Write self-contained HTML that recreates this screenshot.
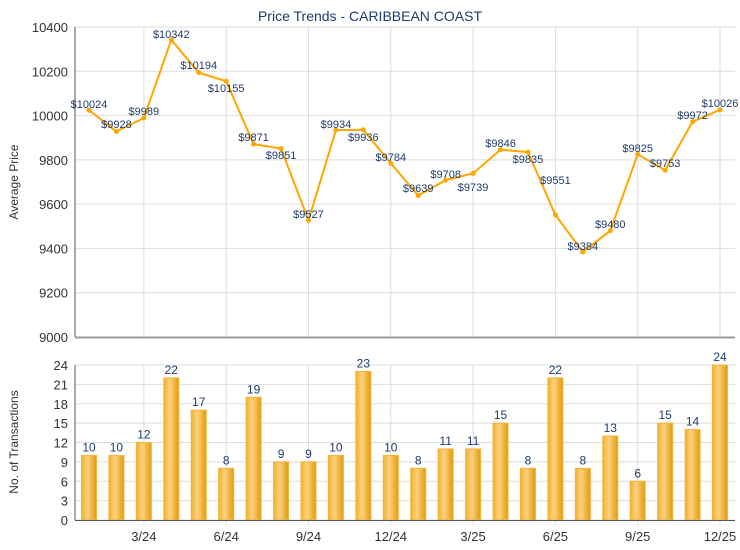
<!DOCTYPE html><html><head><meta charset="utf-8"><style>body{margin:0;background:#fff}svg{display:block;font-family:"Liberation Sans",sans-serif}</style></head><body>
<svg width="740" height="550" viewBox="0 0 740 550">
<defs><linearGradient id="g" x1="0" x2="1"><stop offset="0" stop-color="#f0b030"/><stop offset="0.4" stop-color="#fcd27e"/><stop offset="1" stop-color="#e39a0c"/></linearGradient></defs>
<text x="370" y="21" text-anchor="middle" font-size="14" fill="#1f3b6b">Price Trends - CARIBBEAN COAST</text>
<g id="top"></g><g id="bot"></g>
</svg>
<script>
const P=[10024,9928,9989,10342,10194,10155,9871,9851,9527,9934,9936,9784,9639,9708,9739,9846,9835,9551,9384,9480,9825,9753,9972,10026];
const C=[10,10,12,22,17,8,19,9,9,10,23,10,8,11,11,15,8,22,8,13,6,15,14,24];
const LY=[104,124,111,34,65,88,137,155,214,124,137,157,188,174,187,143,159,180,246,224,148,163,115,103];
const X=i=>89+i*27.435;
const py=v=>337-(v-9000)*(310/1400);
const by=v=>520-v*(155/24);
let s='';
const L=[["3/24",2],["6/24",5],["9/24",8],["12/24",11],["3/25",14],["6/25",17],["9/25",20],["12/25",23]];
// top grid
for(let v=9000;v<=10400;v+=200){const y=py(v);s+=`<line x1="75" x2="735" y1="${y}" y2="${y}" stroke="#ddd"/><text x="68" y="${y+5}" text-anchor="end" font-size="13" fill="#333">${v}</text>`;}
L.forEach(([t,i])=>{s+=`<line x1="${X(i)}" x2="${X(i)}" y1="27" y2="337" stroke="#ddd"/>`});
s+=`<line x1="75" x2="75" y1="27" y2="337" stroke="#555"/><line x1="75" x2="735" y1="337.5" y2="337.5" stroke="#999" stroke-width="2"/>`;
s+=`<text transform="translate(18,182) rotate(-90)" text-anchor="middle" font-size="12" fill="#333">Average Price</text>`;
s+=`<polyline fill="none" stroke="#ffa500" stroke-width="2" points="${P.map((v,i)=>X(i)+','+py(v)).join(' ')}"/>`;
P.forEach((v,i)=>{s+=`<circle cx="${X(i)}" cy="${py(v)}" r="2.5" fill="#ffa500"/><text x="${X(i)}" y="${LY[i]+4}" text-anchor="middle" font-size="11" fill="#1f3b6b">$${v}</text>`});
// bottom
for(let v=0;v<=24;v+=3){const y=by(v);s+=`<line x1="75" x2="735" y1="${y}" y2="${y}" stroke="#ddd"/><text x="68" y="${y+5}" text-anchor="end" font-size="13" fill="#333">${v}</text>`;}
L.forEach(([t,i])=>{s+=`<line x1="${X(i)}" x2="${X(i)}" y1="365" y2="525" stroke="#ddd"/><text x="${X(i)}" y="541" text-anchor="middle" font-size="13" fill="#333">${t}</text>`});
s+=`<text transform="translate(18,442) rotate(-90)" text-anchor="middle" font-size="12" fill="#333">No. of Transactions</text>`;
C.forEach((v,i)=>{const y=by(v);s+=`<rect x="${X(i)-7.5}" y="${y}" width="15" height="${520-y}" fill="url(#g)" stroke="#f5b436" stroke-width="1"/><text x="${X(i)}" y="${y-4}" text-anchor="middle" font-size="12" fill="#1f3b6b">${v}</text>`});
s+=`<line x1="75" x2="75" y1="365" y2="520" stroke="#555"/><line x1="75" x2="735" y1="520.5" y2="520.5" stroke="#555"/>`;
document.getElementById('top').innerHTML=s;
</script>
</body></html>
